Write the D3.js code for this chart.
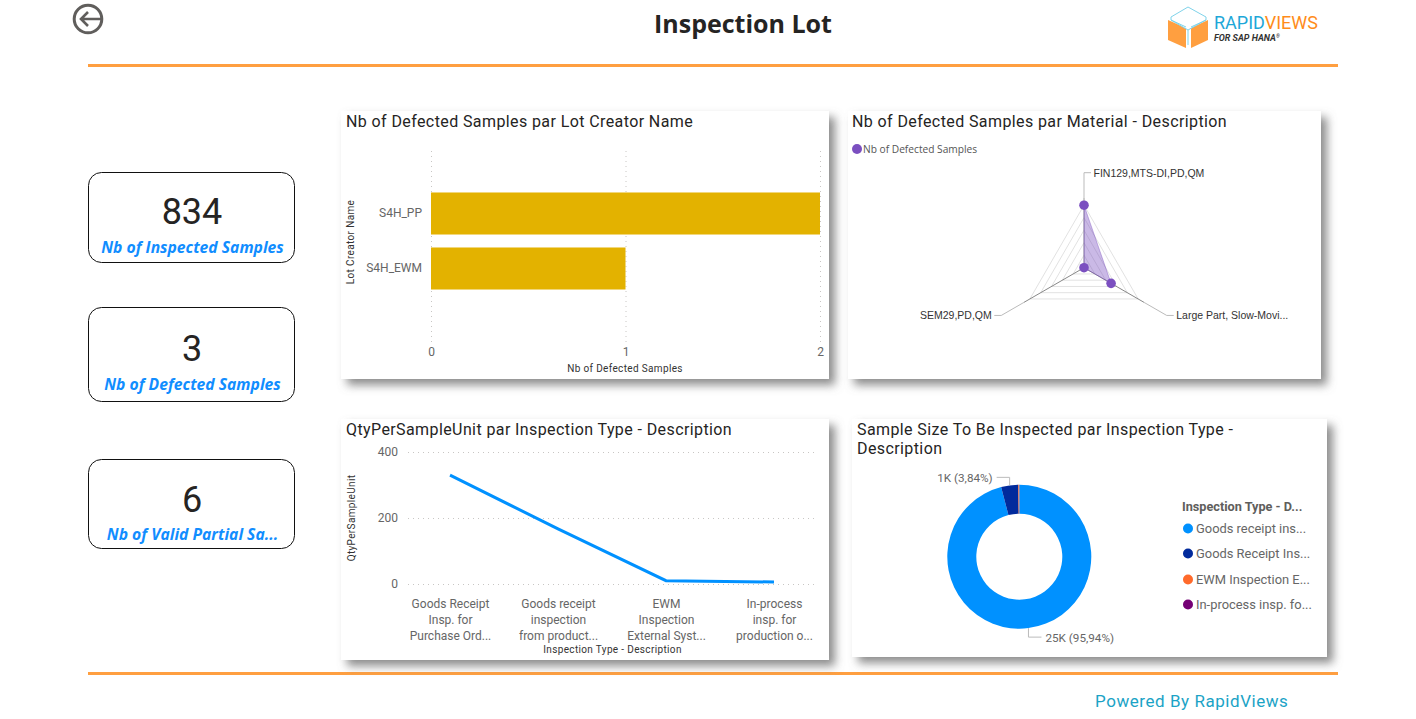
<!DOCTYPE html>
<html>
<head>
<meta charset="utf-8">
<script src="https://cdnjs.cloudflare.com/ajax/libs/d3/7.8.5/d3.min.js"></script>
<style>
    html, body { margin: 0; padding: 0; background: #fff; overflow: hidden; }
    text { font-family: Roboto, sans-serif; }
    .panel_title { font-size: 16px; fill: #252423; letter-spacing: 0.4px; }
    .axis_title { font-size: 10px; fill: #333; letter-spacing: 0.35px; }
    .tick_label, .tick text { font-size: 12px; fill: #666; font-family: Roboto, sans-serif; }
    .grid_line { stroke: #c8c6c4; stroke-dasharray: 1 4; }
    .card_value { font-size: 36px; fill: #252423; text-anchor: middle; }
    .card_label { font-family: "Open Sans", sans-serif; font-size: 15.7px; font-weight: 700; font-style: italic; fill: #118dff; text-anchor: middle; }
    .radar_label { font-family: "Liberation Sans", sans-serif; font-size: 10.5px; fill: #333; }
    .leader { fill: none; stroke: #bbb; stroke-width: 1; }
</style>
</head>
<body>
<script>
"use strict";
// values
const card_values = ["834", "3", "6"];
const card_labels = ["Nb of Inspected Samples", "Nb of Defected Samples", "Nb of Valid Partial Sa..."];

const creator_names = ["S4H_PP", "S4H_EWM"];
const creator_defects = [2, 1];
const creator_ticks = [0, 1, 2];

const material_names = ["FIN129,MTS-DI,PD,QM", "Large Part, Slow-Movi...", "SEM29,PD,QM"];
const material_defects = [2, 1, 0];

const type_labels = [
    ["Goods Receipt", "Insp. for", "Purchase Ord..."],
    ["Goods receipt", "inspection", "from product..."],
    ["EWM", "Inspection", "External Syst..."],
    ["In-process", "insp. for", "production o..."]
];
const qty_values = [330, 167, 10, 6];
const qty_ticks = [0, 200, 400];

const size_legend = ["Goods receipt ins...", "Goods Receipt Ins...", "EWM Inspection E...", "In-process insp. fo..."];
const size_values = [25000, 1000, 50, 8];
const size_colors = ["#0091ff", "#012a9c", "#ff6a2b", "#750075"];

const orange = "#ff9f40";
const blue = "#0091ff";
const purple = "#7b4fc0";

let svg = d3.select("body").append("svg")
    .attr("width", 1416)
    .attr("height", 719);

let shadow = svg.append("defs").append("filter")
    .attr("id", "shadow")
    .attr("x", "-5%").attr("y", "-5%")
    .attr("width", "112%").attr("height", "118%");
shadow.append("feDropShadow")
    .attr("dx", 6).attr("dy", 6)
    .attr("stdDeviation", 5)
    .attr("flood-color", "#707070")
    .attr("flood-opacity", 0.8);

// ----------------------------------------
//  Header and footer
// ----------------------------------------
svg.selectAll(".rule")
    .data([65.5, 673.5])
    .enter().append("line")
    .attr("class", "rule")
    .attr("x1", 88).attr("x2", 1338)
    .attr("y1", d => d).attr("y2", d => d)
    .attr("stroke", orange)
    .attr("stroke-width", 3);

svg.append("text")
    .attr("x", 743).attr("y", 33)
    .attr("text-anchor", "middle")
    .style("font-family", "'Open Sans', sans-serif")
    .style("font-size", "25px")
    .style("font-weight", 700)
    .attr("fill", "#252423")
    .text("Inspection Lot");

// back button
let back = svg.append("g").attr("fill", "none").attr("stroke", "#605e5c").attr("stroke-width", 3);
back.append("circle").attr("cx", 88).attr("cy", 19).attr("r", 13.8);
back.append("path").attr("stroke-width", 2.6).attr("d", "M101 19H81M88 12L81 19L88 26");

// logo
let logo = svg.append("g");
logo.append("path").attr("fill", orange).attr("d", "M1168 20L1186 28V48L1168 40Z");
logo.append("path").attr("fill", orange).attr("d", "M1208 20L1191 28V48L1208 40Z");
logo.append("path").attr("fill", "#fff").attr("stroke", "#7fd3ea").attr("stroke-width", 1)
    .attr("d", "M1188 7L1206 17V20L1188 30L1171 20V17Z");
logo.append("path").attr("fill", "none").attr("stroke", "#7fd3ea").attr("stroke-width", 1)
    .attr("d", "M1188 30V45M1171 20L1186 27M1206 20L1191 27");
let logo_text = svg.append("text").attr("x", 1214).attr("y", 29)
    .style("font-size", "18px").style("font-weight", 400);
logo_text.append("tspan").attr("fill", "#1ea7d8").text("RAPID");
logo_text.append("tspan").attr("fill", "#ff8c1a").text("VIEWS");
let logo_sub = svg.append("text").attr("x", 1214).attr("y", 41)
    .style("font-size", "9px").style("font-weight", 700).style("font-style", "italic")
    .attr("fill", "#333");
logo_sub.append("tspan").text("FOR SAP HANA");
logo_sub.append("tspan").attr("dy", -3).style("font-size", "5px").text("®");

svg.append("text")
    .attr("x", 1095).attr("y", 707)
    .style("font-size", "17px")
    .style("letter-spacing", "0.55px")
    .attr("fill", "#1ba3c6")
    .text("Powered By RapidViews");

// ----------------------------------------
//  KPI cards
// ----------------------------------------
let card_tops = [172.5, 307.5, 459.5];
let card_heights = [90, 94, 89];
let card_value_y = [224, 361, 512];
let card_label_y = [253, 390, 540];

card_values.forEach(function(v, i) {
    svg.append("rect")
        .attr("x", 88.5).attr("y", card_tops[i])
        .attr("width", 206).attr("height", card_heights[i])
        .attr("rx", 13)
        .attr("fill", "#fff").attr("stroke", "#111");
    svg.append("text").attr("class", "card_value").attr("x", 192).attr("y", card_value_y[i]).text(v);
    svg.append("text").attr("class", "card_label").attr("x", 192.5).attr("y", card_label_y[i]).text(card_labels[i]);
});

// ----------------------------------------
//  Panels
// ----------------------------------------
function add_panel(x, y, w, h, title_x, title_lines) {
    svg.append("rect")
        .attr("x", x).attr("y", y)
        .attr("width", w).attr("height", h)
        .attr("fill", "#fff")
        .attr("filter", "url(#shadow)");
    title_lines.forEach(function(t, i) {
        svg.append("text").attr("class", "panel_title")
            .attr("x", title_x).attr("y", y + 16 + i * 19)
            .text(t);
    });
}

add_panel(341, 111, 488, 268, 346, ["Nb of Defected Samples par Lot Creator Name"]);
add_panel(848, 111, 473, 268, 852, ["Nb of Defected Samples par Material - Description"]);
add_panel(341, 419, 488, 241, 346, ["QtyPerSampleUnit par Inspection Type - Description"]);
add_panel(852, 419, 475, 238, 857, ["Sample Size To Be Inspected par Inspection Type -", "Description"]);

function axis_title(x, y, txt, rotate) {
    svg.append("text").attr("class", "axis_title")
        .attr("text-anchor", "middle")
        .attr("transform", "translate(" + x + "," + y + ")" + (rotate ? " rotate(-90)" : ""))
        .text(txt);
}

// ----------------------------------------
//  Bar chart
// ----------------------------------------
let bar_x = d3.scaleLinear().domain([0, 2]).range([431, 820]);
let bar_y = d3.scaleBand().domain(creator_names).range([186, 296]).paddingInner(0.236).paddingOuter(0.118);

let bar_grid = svg.append("g").attr("transform", "translate(0,342)")
    .call(d3.axisBottom(bar_x).tickValues(creator_ticks).tickFormat(d3.format("d")).tickSize(-194).tickPadding(5));
bar_grid.select(".domain").remove();
bar_grid.selectAll(".tick line").attr("class", "grid_line");

svg.selectAll(".bar")
    .data(creator_defects)
    .enter().append("rect")
    .attr("class", "bar")
    .attr("x", bar_x(0))
    .attr("y", (d, i) => bar_y(creator_names[i]))
    .attr("width", d => bar_x(d) - bar_x(0))
    .attr("height", bar_y.bandwidth())
    .attr("fill", "#e3b200");

let bar_names = svg.append("g").attr("transform", "translate(431,0)")
    .call(d3.axisLeft(bar_y).tickSize(0).tickPadding(9));
bar_names.select(".domain").remove();

axis_title(354, 242, "Lot Creator Name", true);
axis_title(625, 372, "Nb of Defected Samples");

// ----------------------------------------
//  Radar chart
// ----------------------------------------
let radar_cx = 1084, radar_cy = 267.7;
let radar_r = d3.scaleLinear().domain([0, 2]).range([0, 62.5]);
let radar_angle = d3.scalePoint().domain(material_names).range([0, 240]);

function radar_point(name, r) {
    let a = radar_angle(name) * Math.PI / 180;
    return [radar_cx + r * Math.sin(a), radar_cy - r * Math.cos(a)];
}

// concentric rings
[0.4, 0.8, 1.2, 1.6, 2].forEach(function(level) {
    svg.append("polygon")
        .attr("points", material_names.map(n => radar_point(n, radar_r(level)).join(",")).join(" "))
        .attr("fill", "none")
        .attr("stroke", "#e2e2e2");
});

// spokes, dark up to the end of the axis
material_names.forEach(function(n, i) {
    let end = radar_point(n, 69.7);
    svg.append("line")
        .attr("x1", radar_cx).attr("y1", radar_cy)
        .attr("x2", end[0]).attr("y2", end[1])
        .attr("stroke", i == 0 ? "#999" : "#888");
});

svg.append("polygon")
    .attr("points", material_names.map((n, i) => radar_point(n, radar_r(material_defects[i])).join(",")).join(" "))
    .attr("fill", purple)
    .attr("fill-opacity", 0.4)
    .attr("stroke", purple)
    .attr("stroke-opacity", 0.4);

svg.selectAll(".radar_dot")
    .data(material_defects)
    .enter().append("circle")
    .attr("class", "radar_dot")
    .attr("cx", (d, i) => radar_point(material_names[i], radar_r(d))[0])
    .attr("cy", (d, i) => radar_point(material_names[i], radar_r(d))[1])
    .attr("r", 4.8)
    .attr("fill", purple);

// labels with their elbows
let radar_side = [1, 1, -1];
material_names.forEach(function(n, i) {
    let start = radar_point(n, 69.7);
    let knee = radar_point(n, i == 0 ? 95 : 95.5);
    let tail = [knee[0] + radar_side[i] * 7, knee[1]];
    svg.append("path").attr("class", "leader")
        .attr("d", d3.line()([start, knee, tail]));
    svg.append("text").attr("class", "radar_label")
        .attr("x", tail[0] + radar_side[i] * 2.5)
        .attr("y", tail[1] + 4)
        .attr("text-anchor", radar_side[i] > 0 ? "start" : "end")
        .text(n);
});

svg.append("circle").attr("cx", 857).attr("cy", 149).attr("r", 5).attr("fill", purple);
svg.append("text").attr("x", 863).attr("y", 153)
    .style("font-family", "'Open Sans', sans-serif")
    .style("font-size", "10.2px")
    .attr("fill", "#555")
    .text("Nb of Defected Samples");

// ----------------------------------------
//  Line chart
// ----------------------------------------
let line_x = d3.scalePoint().domain(d3.range(type_labels.length)).range([396, 828]).padding(0.5);
let line_y = d3.scaleLinear().domain([0, 400]).range([584, 452]);

let line_grid = svg.append("g").attr("transform", "translate(408,0)")
    .call(d3.axisLeft(line_y).tickValues(qty_ticks).tickFormat(d3.format("d")).tickSize(-410).tickPadding(10));
line_grid.select(".domain").remove();
line_grid.selectAll(".tick line").attr("class", "grid_line");

let line_cats = svg.append("g").attr("transform", "translate(0,596)")
    .call(d3.axisBottom(line_x).tickSize(0).tickPadding(0).tickFormat(""));
line_cats.select(".domain").remove();
line_cats.selectAll(".tick").each(function(d) {
    let t = d3.select(this).select("text").attr("y", 0).attr("dy", null);
    type_labels[d].forEach(function(s, i) {
        t.append("tspan").attr("x", 0).attr("y", 12 + i * 16).text(s);
    });
});

svg.append("path")
    .attr("d", d3.line().x((d, i) => line_x(i)).y(d => line_y(d))(qty_values))
    .attr("fill", "none")
    .attr("stroke", blue)
    .attr("stroke-width", 3);

axis_title(355, 518, "QtyPerSampleUnit", true);
axis_title(612.5, 653, "Inspection Type - Description");

// ----------------------------------------
//  Donut chart
// ----------------------------------------
let donut_cx = 1019.3, donut_cy = 556.7;
let pie = d3.pie().sort(null)(size_values);
let arc = d3.arc().innerRadius(43).outerRadius(72);

let donut = svg.append("g").attr("transform", "translate(" + donut_cx + "," + donut_cy + ")");
donut.selectAll("path")
    .data(pie)
    .enter().append("path")
    .attr("d", arc)
    .attr("fill", (d, i) => size_colors[i]);

// only the two biggest slices get a label
let size_labels = ["25K (95,94%)", "1K (3,84%)"];
size_labels.forEach(function(txt, i) {
    let mid = (pie[i].startAngle + pie[i].endAngle) / 2;
    let start = [72 * Math.sin(mid), -72 * Math.cos(mid)];
    let knee = [start[0], start[1] + (i == 0 ? 9 : -8)];
    let tail = [knee[0] + (i == 0 ? 13 : -13), knee[1]];
    donut.append("path").attr("class", "leader")
        .attr("d", d3.line()([start, knee, tail]));
    donut.append("text").attr("class", "tick_label")
        .attr("x", tail[0] + (i == 0 ? 4 : -4))
        .attr("y", tail[1] + 5)
        .attr("text-anchor", i == 0 ? "start" : "end")
        .style("font-size", "11.7px")
        .text(txt);
});

svg.append("text").attr("x", 1182).attr("y", 511)
    .style("font-size", "12.7px").style("font-weight", 700)
    .attr("fill", "#605e5c")
    .text("Inspection Type - D...");

let legend_y = [528.5, 553.5, 579.5, 604.5];
size_legend.forEach(function(name, i) {
    svg.append("circle").attr("cx", 1188).attr("cy", legend_y[i]).attr("r", 5).attr("fill", size_colors[i]);
    svg.append("text").attr("class", "tick_label")
        .attr("x", 1196).attr("y", legend_y[i] + 4.5)
        .style("font-size", "12.9px")
        .text(name);
});
</script>
</body>
</html>
